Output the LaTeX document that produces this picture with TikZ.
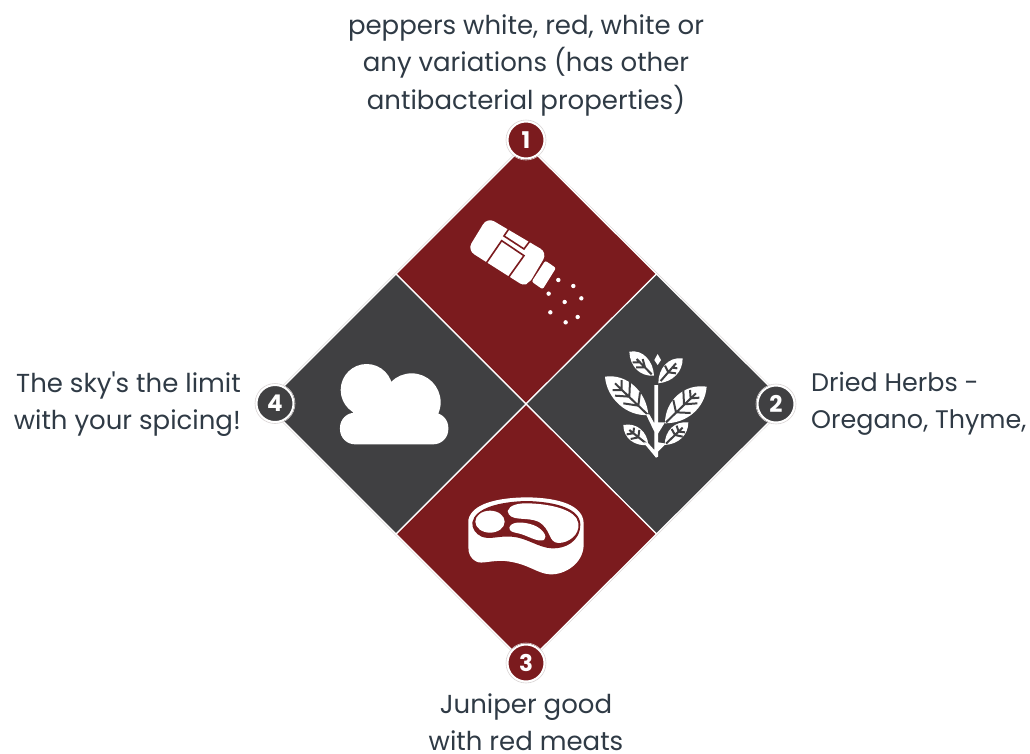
\documentclass[tikz,border=0pt]{standalone}
\usepackage{fontspec}
\setmainfont{Poppins}[Ligatures=TeXOff]
\definecolor{wine}{HTML}{7B1B1E}
\definecolor{slate}{HTML}{404042}
\definecolor{ink}{HTML}{2F3A45}
\definecolor{rim}{HTML}{D9D4D4}
\tikzset{
  tile/.style={draw=white,line width=1.2pt,line join=miter},
  badge/.style={circle,draw=white,line width=2pt,minimum size=37pt,inner sep=0pt,text=white,font=\fontsize{23}{25}\selectfont\bfseries},
  badgerim/.style={draw=rim,line width=0.6pt},
  label/.style={text=ink,font=\fontsize{26}{37.5}\selectfont,inner sep=0pt},
  labelsmall/.style={text=ink,font=\fontsize{25.4}{37.5}\selectfont,inner sep=0pt},
  vein/.style={draw=slate,line width=2pt,line cap=butt},
  icon/.style={fill=white,draw=none}
}
\begin{document}
\begin{tikzpicture}[x=1pt,y=-1pt]
\useasboundingbox (0,0) rectangle (1030,753);
% outer hairline
\draw[rim,line width=0.6pt,line join=miter] (526,142.6) -- (788.4,404) -- (526,665.4) -- (264.6,404) -- cycle;
% tiles
\fill[wine,tile] (526,144) -- (656.5,274) -- (526,404) -- (396,274) -- cycle;
\fill[slate,tile] (656.5,274) -- (787,404) -- (656.5,534) -- (526,404) -- cycle;
\fill[wine,tile] (526,404) -- (656.5,534) -- (526,664) -- (396,534) -- cycle;
\fill[slate,tile] (396,274) -- (526,404) -- (396,534) -- (266,404) -- cycle;
% shaker
\begin{scope}[shift={(440,190)},x=0.3333pt,y=-0.3333pt]
\fill[icon,rounded corners=8pt] (142,82) -- (322,188) -- (260,293) -- (82,180) -- cycle;
\draw[wine,line width=1.6pt,line join=miter] (137,222) -- (185,152) -- (252,197) -- (205,263);
\draw[wine,line width=1.6pt,line join=miter] (207,116) -- (192,138) -- (252,177) -- (270,153);
\fill[wine] (330,195) -- (300,250) -- (262,280) -- (255,300) -- (350,300) -- (350,195) -- cycle;
\fill[icon,rounded corners=2pt] (316,212) -- (348,234) -- (308,298) -- (275,275) -- cycle;
\foreach \p in {(355,270),(400,288),(326,311),(424,325),(374,336),(331,367),(413,381),(377,397)}
  \fill[white] \p circle (2.2pt);
\end{scope}
% plant
\begin{scope}[shift={(590,335)},x=0.3333pt,y=-0.3333pt]
\fill[icon] (203,57) -- (213,75) -- (203,90) -- (193,75) -- cycle;
\fill[icon] (118,50) .. controls (160,42) and (190,80) .. (192,122) .. controls (150,125) and (120,95) .. cycle;
\fill[icon] (278,70) .. controls (235,65) and (205,100) .. (205,145) .. controls (250,140) and (278,110) .. cycle;
\fill[icon] (45,125) .. controls (110,115) and (170,170) .. (175,240) .. controls (110,245) and (50,190) .. cycle;
\fill[icon] (350,155) .. controls (285,145) and (225,195) .. (225,265) .. controls (290,265) and (345,220) .. cycle;
\fill[icon] (100,270) .. controls (140,262) and (172,290) .. (175,330) .. controls (135,335) and (100,310) .. cycle;
\fill[icon] (295,262) .. controls (255,258) and (225,285) .. (224,330) .. controls (265,328) and (295,300) .. cycle;
% veins
\draw[vein] (185,118) -- (140,72) (165,97) -- (158,72) (165,97) -- (138,97) (150,82) -- (128,82);
\draw[vein] (212,138) -- (258,85) (235,112) -- (225,92) (235,112) -- (258,115) (248,98) -- (262,100);
\draw[vein] (172,238) -- (75,145) (145,212) -- (150,172) (145,212) -- (100,205) (118,185) -- (120,140) (118,185) -- (75,182) (95,165) -- (95,135) (95,165) -- (68,165);
\draw[vein] (228,262) -- (318,175) (258,232) -- (250,195) (258,232) -- (302,234) (282,208) -- (280,165) (282,208) -- (322,205) (302,190) -- (300,165) (302,190) -- (328,188);
\draw[vein] (172,328) -- (118,285) (145,307) -- (148,285) (145,307) -- (122,312) (130,295) -- (132,278) (130,295) -- (110,298);
\draw[vein] (228,326) -- (278,278) (255,300) -- (245,282) (255,300) -- (278,305) (266,290) -- (260,272) (266,290) -- (285,292);
% stem
\fill[slate] (180,150) rectangle (217,368);
\fill[icon] (193,150) -- (204,150) -- (204,262) -- (225,262) -- (204,296) -- (204,322) -- (228,326) -- (204,350) -- (204,365) -- (198,368) -- (160,322) -- (172,322) -- (193,345) -- (193,290) -- (168,238) -- (178,238) -- (193,265) -- cycle;
\end{scope}
% steak
\begin{scope}[shift={(455,485)},x=0.3333pt,y=-0.3333pt]
\fill[icon] (40,105) .. controls (50,55) and (130,38) .. (215,37) .. controls (310,38) and (385,60) .. (386,115) -- (386,180) .. controls (385,235) and (330,270) .. (285,268) .. controls (245,266) and (220,235) .. (150,228) .. controls (110,225) and (80,238) .. (65,230) .. controls (45,220) and (40,205) .. (40,185) -- cycle;
\fill[wine] (52,112) .. controls (60,70) and (130,50) .. (215,48) .. controls (300,50) and (375,70) .. (376,118) .. controls (376,170) and (330,192) .. (290,190) .. controls (250,188) and (215,158) .. (170,155) .. controls (130,152) and (105,165) .. (80,155) .. controls (62,147) and (50,130) .. cycle;
\fill[white] (105,110) ellipse [x radius=44,y radius=33];
\fill[white] (158,78) .. controls (163,60) and (190,54) .. (220,55) .. controls (290,57) and (365,75) .. (370,115) .. controls (375,150) and (340,174) .. (310,174) .. controls (278,172) and (290,132) .. (250,110) .. controls (215,94) and (163,112) .. cycle;
\fill[white] (163,128) .. controls (168,110) and (200,108) .. (235,120) .. controls (262,130) and (280,155) .. (267,165) .. controls (245,172) and (220,152) .. (190,145) .. controls (175,142) and (163,140) .. cycle;
\end{scope}
% cloud
\begin{scope}[shift={(240,350)},x=0.3333pt,y=-0.3333pt]
\fill[icon] (380,120) circle (26pt);
\fill[icon] (515,157) circle (29pt);
\fill[icon,rounded corners=15pt] (300,188) rectangle (625,283);
\fill[icon] (340,150) rectangle (590,200);
\end{scope}
% badges
\node[badge,fill=wine] (b1) at (526,140) {1};
\node[badge,fill=slate] (b2) at (776,404) {2};
\node[badge,fill=wine] (b3) at (526,663) {3};
\node[badge,fill=slate] (b4) at (275,403.5) {4};
\foreach \b in {b1,b2,b3,b4} \draw[badgerim] (\b.center) circle (20pt);
% labels
\node[label,align=center,anchor=center] (t1) at (526,65) {peppers white, red, white or\\any variations (has other\\antibacterial properties)};
\node[labelsmall,align=left,anchor=west] (t2) at (811,404) {Dried Herbs -\\Oregano, Thyme,};
\node[label,align=center,anchor=south] (t3) at (526,751) {Juniper good\\with red meats};
\node[label,align=right,anchor=east] (t4) at (241,404) {The sky's the limit\\with your spicing!};
\end{tikzpicture}
\end{document}
